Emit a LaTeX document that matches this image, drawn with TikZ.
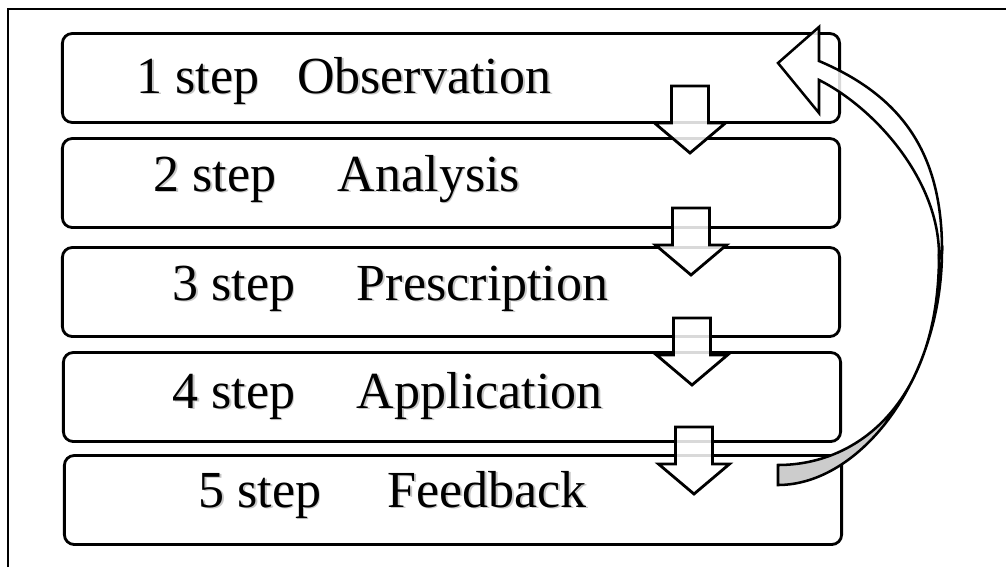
\documentclass[tikz,border=0pt]{standalone}
\usepackage{fontspec}
\setmainfont{Liberation Serif}
\usepackage{xcolor}
\usetikzlibrary{positioning}

% text with a soft grey copy behind it
\newcommand{\shadowed}[1]{\rlap{\kern1.3pt\raisebox{-1.3pt}{\textcolor{black!22}{#1}}}#1}

\begin{document}
\begin{tikzpicture}[
    x=0.025cm, y=-0.025cm,
    stepbox/.style={rectangle, draw, line width=2pt, rounded corners=7pt, minimum width=19.425cm, minimum height=2.225cm, inner sep=0pt},
    steptext/.style={font=\fontsize{37}{40}\selectfont, anchor=base west, inner sep=0pt},
    downarr/.style={draw, line width=2pt, fill=white, fill opacity=0.85, line join=miter},
    loopface/.style={draw, line width=1.8pt, fill=white, fill opacity=0.85, line join=miter},
    loopback/.style={draw, line width=1.8pt, fill=black!20},
]
\useasboundingbox (0,0) rectangle (1006,567);

% frame
\draw[line width=2pt] (8,567) -- (8,9) -- (1006,9);

% the five steps
\node[stepbox] (obs) at (451,78) {};
\node[stepbox] (ana) at (451,183) {};
\node[stepbox] (pres) at (451,292) {};
\node[stepbox] (appl) at (452,397) {};
\node[stepbox] (feed) at (453,500) {};

\node[steptext] (obs-t) at (136,93) {\shadowed{1 step\hspace{27pt}Observation}};
\node[steptext] (ana-t) at (153,191) {\shadowed{2 step\hspace{44pt}Analysis}};
\node[steptext] (pres-t) at (172,300) {\shadowed{3 step\hspace{44pt}Prescription}};
\node[steptext] (appl-t) at (172,408) {\shadowed{4 step\hspace{44pt}Application}};
\node[steptext] (feed-t) at (198,507) {\shadowed{5 step\hspace{47pt}Feedback}};

% block arrows between the steps
\foreach \n/\x/\t in {1/690/86, 2/691/208, 3/692/318, 4/694/427}
  \draw[downarr] (\x-18.5,\t) coordinate (d\n) -- (\x+18.5,\t) -- (\x+18.5,\t+37) -- (\x+35.5,\t+37)
    -- (\x,\t+67) -- (\x-35.5,\t+37) -- (\x-18.5,\t+37) -- cycle;

% return arrow, back side
\draw[loopback] (942,250) .. controls (942,380) and (860,485) .. (778,485) -- (778,465) .. controls (860,465) and (939,400) .. (939,255) -- cycle;
% return arrow, front side with head
\draw[loopface] (819,61) -- (819,27) -- (778,63) -- (819,113) -- (819,80) .. controls (875,108) and (939,180) .. (939,255) -- (942,250) .. controls (942,150) and (899,95) .. (819,61) -- cycle;

\end{tikzpicture}
\end{document}
